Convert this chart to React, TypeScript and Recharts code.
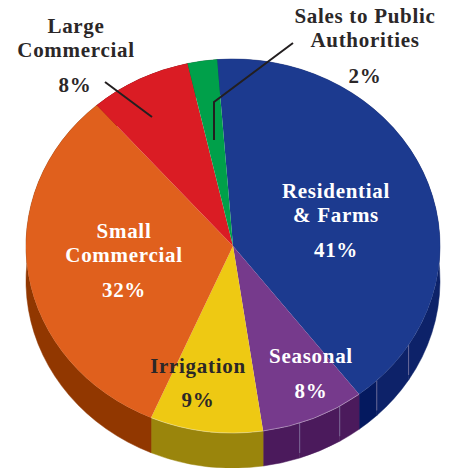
import { Pie, PieChart } from "recharts";

// top face of the pie, clockwise from just left of 12 o'clock
const sectors = ["Residential & Farms", "Seasonal", "Irrigation", "Small Commercial", "Large Commercial", "Sales to Public Authorities"];
const shares = [40.8, 8.1, 8.8, 32.1, 7.9, 2.3];
const topColors = ["#1c3a8f", "#763a8c", "#eec913", "#e0601d", "#da1c24", "#00a04a"];

// side wall pieces, the blue and purple walls are split in panels
const wallShares = [35.1, 3.9, 1.8, 1.8, 3.4, 2.9, 8.8, 32.1, 7.9, 2.3];
const wallColors = ["#0d2269", "#0d2269", "#04195f", "#4b1a5c", "#4b1a5c", "#4b1a5c", "#9a850c", "#913700", "#7f1015", "#00622c"];
const wallSeams = [false, true, true, false, true, true, false, false, false, false];

const topData = sectors.map((name, i) => ({ name, value: shares[i], fill: topColors[i] }));
const wallData = wallShares.map((value, i) => ({ value, fill: wallColors[i], seam: wallSeams[i] }));

const SQUASH = 187 / 207;
const DEPTH = 35;
const START = 94.4;

const pt = (cx: number, cy: number, r: number, deg: number) => {
  const a = (deg * Math.PI) / 180;
  return [cx + r * Math.cos(a), cy - r * SQUASH * Math.sin(a)];
};

function WallSlice(props: any) {
  const { cx, cy, outerRadius: r, startAngle, endAngle, fill, payload } = props;
  const [x0, y0] = pt(cx, cy, r, startAngle);
  const [x1, y1] = pt(cx, cy, r, endAngle);
  const large = Math.abs(startAngle - endAngle) > 180 ? 1 : 0;
  const ry = r * SQUASH;
  const seam = payload?.seam ?? props.seam;
  return (
    <g>
      <path
        d={`M${x0},${y0}A${r},${ry} 0 ${large} 1 ${x1},${y1}L${x1},${y1 + DEPTH}A${r},${ry} 0 ${large} 0 ${x0},${y0 + DEPTH}Z`}
        fill={fill}
        stroke={fill}
        strokeWidth={0.5}
      />
      {seam && <path d={`M${x0},${y0}L${x0},${y0 + DEPTH - 5}`} stroke="#8d86ad" strokeWidth={0.7} fill="none" />}
    </g>
  );
}

function TopSlice(props: any) {
  const { cx, cy, outerRadius: r, startAngle, endAngle, fill } = props;
  const [x0, y0] = pt(cx, cy, r, startAngle);
  const [x1, y1] = pt(cx, cy, r, endAngle);
  const large = Math.abs(startAngle - endAngle) > 180 ? 1 : 0;
  const ry = r * SQUASH;
  return (
    <g>
      <path d={`M${cx},${cy}L${x0},${y0}A${r},${ry} 0 ${large} 1 ${x1},${y1}Z`} fill={fill} />
      {y0 > cy - 20 && y1 > cy - 20 && (
        <path d={`M${x0},${y0}A${r},${ry} 0 ${large} 1 ${x1},${y1}`} stroke="#ffffff" strokeOpacity={0.5} strokeWidth={0.7} fill="none" />
      )}
    </g>
  );
}

const textStyle = {
  fontFamily: "'Liberation Serif', serif",
  fontWeight: 700,
  fontSize: 21,
  letterSpacing: 0.7,
};

function Label({ x, y, color, children }: any) {
  return (
    <text x={x} y={y} textAnchor="middle" fill={color} style={textStyle}>
      {children}
    </text>
  );
}

export default function App() {
  return (
    <div style={{ position: "absolute", left: 0, top: 0, width: 453, height: 468, background: "#fff" }}>
      <PieChart width={453} height={468} margin={{ top: 0, right: 0, bottom: 0, left: 0 }}>
        <Pie
          data={wallData}
          dataKey="value"
          cx={233}
          cy={246}
          innerRadius={0}
          outerRadius={207}
          startAngle={START}
          endAngle={START - 360}
          shape={WallSlice}
          stroke="none"
          isAnimationActive={false}
        />
        <Pie
          data={topData}
          dataKey="value"
          nameKey="name"
          cx={233}
          cy={246}
          innerRadius={0}
          outerRadius={207}
          startAngle={START}
          endAngle={START - 360}
          shape={TopSlice}
          stroke="none"
          isAnimationActive={false}
        />
      </PieChart>
      {/* pie layers paint over svg children, so leaders and labels sit on their own layer */}
      <svg width={453} height={468} style={{ position: "absolute", left: 0, top: 0 }}>
        <path d="M105,82L152,117" stroke="#231f20" strokeWidth={2} fill="none" />
        <path d="M293,43L214,102L214,140" stroke="#231f20" strokeWidth={2} fill="none" />

        <Label x={76} y={33} color="#2b2728">Large</Label>
        <Label x={76} y={57} color="#2b2728">Commercial</Label>
        <Label x={75} y={92} color="#2b2728">8%</Label>
        <Label x={365} y={23} color="#2b2728">Sales to Public</Label>
        <Label x={365} y={47} color="#2b2728">Authorities</Label>
        <Label x={365} y={83} color="#2b2728">2%</Label>
        <Label x={336} y={198} color="#ffffff">Residential</Label>
        <Label x={336} y={222} color="#ffffff">&amp; Farms</Label>
        <Label x={336} y={257} color="#ffffff">41%</Label>
        <Label x={124} y={238} color="#ffffff">Small</Label>
        <Label x={124} y={262} color="#ffffff">Commercial</Label>
        <Label x={124} y={297} color="#ffffff">32%</Label>
        <Label x={198} y={373} color="#2b2728">Irrigation</Label>
        <Label x={198} y={407} color="#2b2728">9%</Label>
        <Label x={311} y={363} color="#ffffff">Seasonal</Label>
        <Label x={311} y={398} color="#ffffff">8%</Label>
      </svg>
    </div>
  );
}
